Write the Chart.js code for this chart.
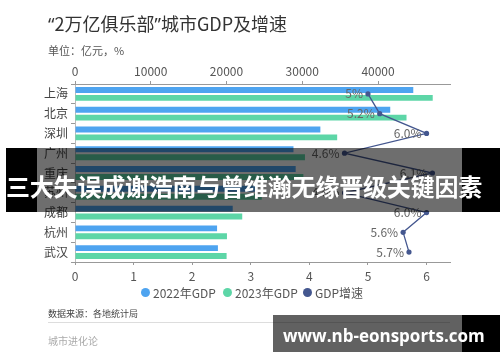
<!DOCTYPE html>
<html>
<head>
<meta charset="utf-8">
<script src="https://cdn.jsdelivr.net/npm/chart.js@4.4.1/dist/chart.umd.min.js"></script>
<style>
  html, body { margin: 0; padding: 0; background: #fff; }
  body { width: 500px; height: 362px; position: relative; overflow: hidden; font-family: "Noto Sans CJK SC", "Noto Sans", sans-serif; }
  #chart { position: absolute; left: 0; top: 0; }
  .abs { position: absolute; white-space: nowrap; }
  .title { left: 48px; top: 10px; font-size: 18px; color: #333; }
  .q { font-family: "Noto Sans", sans-serif; }
  .unit { left: 48px; top: 42px; font-size: 11px; color: #555; }
  .legend { top: 284px; left: 0; font-size: 12px; color: #555; }
  .legend span { position: absolute; top: 0; }
  .dot { width: 9px; height: 9px; border-radius: 50%; top: 4px !important; }
  .source { left: 48px; top: 307px; font-size: 9px; color: #444; }
  .rule { left: 48px; top: 322px; width: 402px; height: 1px; background: #ddd; }
  .brand { left: 48px; top: 333px; font-size: 10px; color: #aaa; }
  .band { top: 148px; height: 64px; }
  .bandText { left: 6px; top: 168px; font-size: 24px; font-weight: 700; color: #fff; letter-spacing: -0.2px; }
  .wm { top: 315px; height: 37px; }
  .wmText { left: 283px; top: 324px; font-family: "Open Sans", "DejaVu Sans", sans-serif; font-size: 17px; font-weight: 700; color: #fff; line-height: 24px; }
</style>
</head>
<body>
<canvas id="chart" width="500" height="362"></canvas>
<div class="abs title"><span class="q">“</span>2万亿俱乐部<span class="q">”</span>城市GDP及增速</div>
<div class="abs unit">单位：亿元，%</div>
<div class="abs legend" id="legend"></div>
<div class="abs source">数据来源：各地统计局</div>
<div class="abs rule"></div>
<div class="abs brand">城市进化论</div>

<div class="abs band" style="left:6px;width:31px;background:#000;"></div>
<div class="abs band" style="left:37px;width:425px;background:rgba(0,0,0,0.57);"></div>
<div class="abs band" style="left:462px;width:38px;background:#000;"></div>
<div class="abs bandText">三大失误成谢浩南与曾维瀚无缘晋级关键因素</div>

<div class="abs wm" style="left:273px;width:189px;background:rgba(0,0,0,0.62);"></div>
<div class="abs wm" style="left:462px;width:38px;background:#000;"></div>
<div class="abs wmText">www.nb-eonsports.com</div>

<script>
// 数据
const cities = ['上海', '北京', '深圳', '广州', '重庆', '苏州', '成都', '杭州', '武汉'];
const gdp2022 = [44653, 41611, 32388, 28839, 29129, 23958, 20818, 18753, 18866];
const gdp2023 = [47219, 43761, 34606, 30356, 30146, 24653, 22075, 20059, 20012];
const growth = [5.0, 5.2, 6.0, 4.6, 6.1, 4.6, 6.0, 5.6, 5.7];
const growthLabels = ['5%', '5.2%', '6.0%', '4.6%', '6.1%', '4.6%', '6.0%', '5.6%', '5.7%'];
const gdpTicks = [0, 10000, 20000, 30000, 40000];
const growthTicks = [0, 1, 2, 3, 4, 5, 6];

const BLUE = '#4ea4f0';
const GREEN = '#5dd6a7';
const NAVY = '#44578f';
const FONT = '"Noto Sans CJK SC", "Noto Sans", sans-serif';

// legend
const legendItems = [
    { text: '2022年GDP', color: BLUE, x: 141 },
    { text: '2023年GDP', color: GREEN, x: 223 },
    { text: 'GDP增速', color: NAVY, x: 303 }
];
const legend = document.getElementById('legend');
legendItems.forEach(item => {
    legend.insertAdjacentHTML('beforeend',
        `<span class="dot" style="left:${item.x}px;background:${item.color}"></span>` +
        `<span style="left:${item.x + 12}px">${item.text}</span>`);
});

const pointLabels = {
    id: 'pointLabels',
    afterDatasetsDraw(chart) {
        const meta = chart.getDatasetMeta(2);
        const ctx = chart.ctx;
        ctx.save();
        ctx.font = '12px ' + FONT;
        ctx.fillStyle = '#666';
        ctx.textAlign = 'right';
        ctx.textBaseline = 'middle';
        meta.data.forEach((pt, i) => {
            ctx.fillText(growthLabels[i], pt.x - 5, pt.y);
        });
        ctx.restore();
    }
};

const axisColor = '#999';

new Chart(document.getElementById('chart'), {
    type: 'bar',
    data: {
        labels: cities,
        datasets: [
            {
                label: '2022年GDP',
                data: gdp2022,
                backgroundColor: BLUE,
                xAxisID: 'x',
                order: 1,
                categoryPercentage: 0.8,
                barPercentage: 0.75
            },
            {
                label: '2023年GDP',
                data: gdp2023,
                backgroundColor: GREEN,
                xAxisID: 'x',
                order: 1,
                categoryPercentage: 0.8,
                barPercentage: 0.75
            },
            {
                type: 'line',
                label: 'GDP增速',
                data: growth,
                indexAxis: 'y',
                xAxisID: 'x2',
                borderColor: NAVY,
                borderWidth: 1.3,
                pointRadius: 2.6,
                pointBackgroundColor: NAVY,
                pointBorderWidth: 0,
                tension: 0,
                order: 0
            }
        ]
    },
    options: {
        indexAxis: 'y',
        responsive: false,
        animation: false,
        layout: { padding: { left: 0, right: 50, top: 60, bottom: 80 } },
        plugins: {
            legend: { display: false },
            tooltip: { enabled: false }
        },
        scales: {
            y: {
                position: 'left',
                afterFit: s => { s.width = 75; },
                grid: { drawOnChartArea: false, tickLength: 4, color: axisColor },
                border: { color: '#bbb' },
                ticks: { color: '#444', padding: 3, font: { family: FONT, size: 12 } }
            },
            x: {
                position: 'top',
                min: 0,
                max: 49500,
                afterFit: s => { s.height = 24; },
                afterBuildTicks: s => { s.ticks = gdpTicks.map(v => ({ value: v })); },
                grid: { drawOnChartArea: false, tickLength: 3, color: axisColor },
                border: { color: axisColor },
                ticks: { color: '#555', padding: 2, callback: v => String(v), font: { family: FONT, size: 12 } }
            },
            x2: {
                position: 'bottom',
                min: 0,
                max: 6.4,
                afterFit: s => { s.height = 20; },
                afterBuildTicks: s => { s.ticks = growthTicks.map(v => ({ value: v })); },
                grid: { drawOnChartArea: false, tickLength: 3, color: axisColor },
                border: { color: axisColor },
                ticks: { color: '#555', padding: 4, callback: v => String(v), font: { family: FONT, size: 12 } }
            }
        }
    },
    plugins: [pointLabels]
});
</script>
</body>
</html>
